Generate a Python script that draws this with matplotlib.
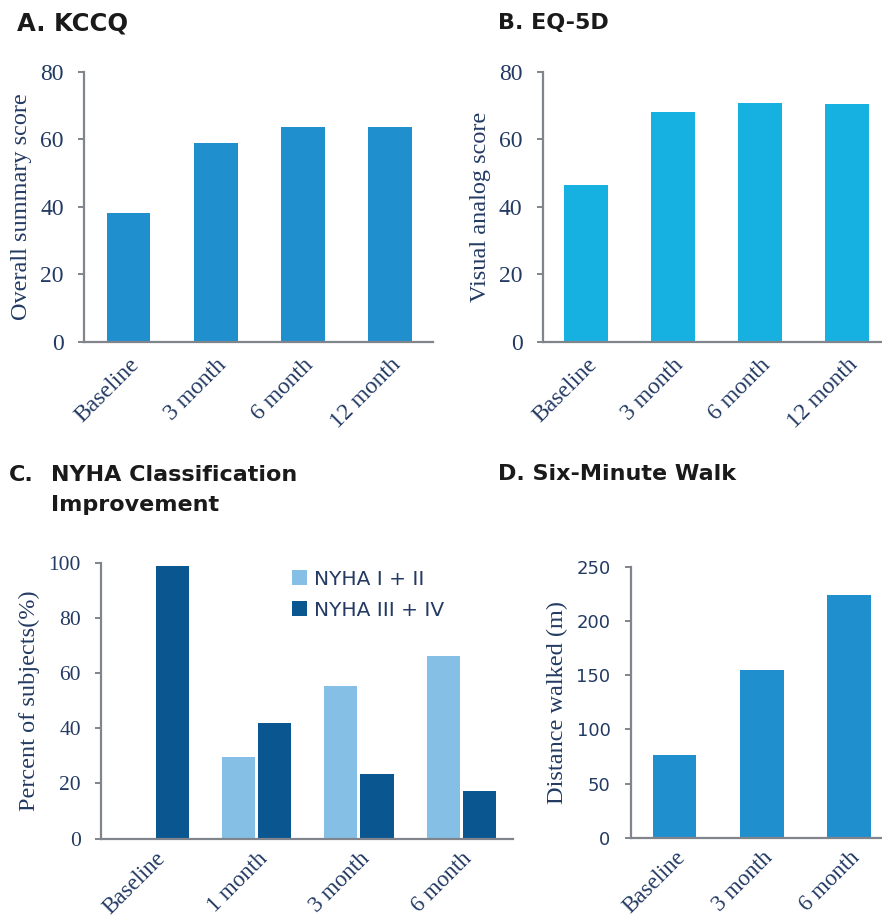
"""
Outcome panels: KCCQ, EQ-5D, NYHA class and six-minute walk.
"""

import matplotlib

matplotlib.use("Agg")

import matplotlib.pyplot as plt
import numpy as np

# data
kccq_labels = ["Baseline", "3 month", "6 month", "12 month"]
kccq_scores = [38.2, 59.0, 63.8, 63.8]

eq5d_labels = ["Baseline", "3 month", "6 month", "12 month"]
eq5d_scores = [46.4, 68.2, 70.9, 70.6]

nyha_labels = ["Baseline", "1 month", "3 month", "6 month"]
nyha_series = ["NYHA I + II", "NYHA III + IV"]
nyha_low = [0.0, 29.5, 55.4, 66.2]
nyha_high = [98.8, 42.0, 23.3, 17.4]

walk_labels = ["Baseline", "3 month", "6 month"]
walk_distance = [76.4, 155.2, 224.4]

TEXT = "#233a63"
AXIS = "#80848c"
BLUE = "#1f8fce"
CYAN = "#17b1e1"
LIGHT = "#85bfe6"
DARK = "#0a5690"

SERIF = "Liberation Serif"
SANS = "DejaVu Sans"
TITLE = "DejaVu Sans"


def style_axes(ax, ytick_family=SERIF, ytick_size=17, xpad=9, xsize=17):
    for side in ["top", "right"]:
        ax.spines[side].set_visible(False)
    for side in ["left", "bottom"]:
        ax.spines[side].set_color(AXIS)
        ax.spines[side].set_linewidth(1.6)
    ax.tick_params(axis="x", length=0, pad=xpad)
    ax.tick_params(axis="y", length=4.5, width=1.4, color=AXIS, pad=10)
    for lab in ax.get_yticklabels():
        lab.set_family(ytick_family)
        lab.set_color(TEXT)
        lab.set_fontsize(ytick_size)
    for lab in ax.get_xticklabels():
        lab.set_family(SERIF)
        lab.set_color(TEXT)
        lab.set_fontsize(xsize)
        lab.set_rotation(45)
        lab.set_ha("right")
        lab.set_rotation_mode("anchor")


def simple_bars(ax, labels, values, color, ylim, yticks, ylabel, **style):
    x = np.arange(len(labels))
    ax.bar(x, values, width=0.5, color=color)
    ax.set_xticks(x)
    ax.set_xticklabels(labels)
    ax.set_ylim(*ylim)
    ax.set_yticks(yticks)
    ax.set_ylabel(ylabel, family=SERIF, color=TEXT, fontsize=17.5, labelpad=6)
    style_axes(ax, **style)


fig = plt.figure(figsize=(8.82, 9.19), dpi=100)

ax_a = fig.add_axes([0.0952, 0.6279, 0.3957, 0.2938])
simple_bars(ax_a, kccq_labels, kccq_scores, BLUE, (0, 80), [0, 20, 40, 60, 80],
            "Overall summary score")
ax_a.set_xlim(-0.51, 3.49)

ax_b = fig.add_axes([0.6153, 0.6279, 0.3946, 0.2938])
simple_bars(ax_b, eq5d_labels, eq5d_scores, CYAN, (0, 80), [0, 20, 40, 60, 80],
            "Visual analog score")
ax_b.set_xlim(-0.5, 3.5)

ax_c = fig.add_axes([0.1145, 0.0874, 0.467, 0.3003])
xc = np.arange(len(nyha_labels))
bw = 0.325
gap = 0.018
ax_c.bar(xc - bw / 2 - gap, nyha_low, width=bw, color=LIGHT, label=nyha_series[0])
ax_c.bar(xc + bw / 2 + gap - 0.3 * gap, nyha_high, width=bw, color=DARK, label=nyha_series[1])
ax_c.set_xticks(xc)
ax_c.set_xticklabels(nyha_labels)
ax_c.set_xlim(-0.52, 3.5)
ax_c.set_ylim(0, 100)
ax_c.set_yticks([0, 20, 40, 60, 80, 100])
ax_c.set_ylabel("Percent of subjects(%)", family=SERIF, color=TEXT, fontsize=17.5, labelpad=6)
style_axes(ax_c, ytick_size=15.5, xpad=7, xsize=16.5)
leg = ax_c.legend(loc="upper left", bbox_to_anchor=(0.42, 1.04), frameon=False,
                  handlelength=0.75, handleheight=0.75, handletextpad=0.35,
                  labelspacing=0.6, prop={"family": SANS, "size": 14.5})
for t in leg.get_texts():
    t.set_color(TEXT)

ax_d = fig.add_axes([0.715, 0.0885, 0.2976, 0.2946])
simple_bars(ax_d, walk_labels, walk_distance, BLUE, (0, 250), [0, 50, 100, 150, 200, 250],
            "Distance walked (m)", ytick_family=SANS, ytick_size=13, xpad=7, xsize=16.5)
ax_d.set_xlim(-0.5, 2.5)

title_kw = dict(family=TITLE, fontweight="bold", color="#1a1a1a", va="center")
fig.text(17 / 882, 1 - 23 / 919, "A. KCCQ", fontsize=17.5, **title_kw)
fig.text(498 / 882, 1 - 23 / 919, "B. EQ-5D", fontsize=16, **title_kw)
fig.text(9 / 882, 1 - 475 / 919, "C.", fontsize=16, **title_kw)
fig.text(51 / 882, 1 - 475 / 919, "NYHA Classification", fontsize=16, **title_kw)
fig.text(51 / 882, 1 - 505 / 919, "Improvement", fontsize=16, **title_kw)
fig.text(498 / 882, 1 - 474 / 919, "D. Six-Minute Walk", fontsize=16, **title_kw)

fig.savefig("out.png", dpi=100)
plt.close(fig)
